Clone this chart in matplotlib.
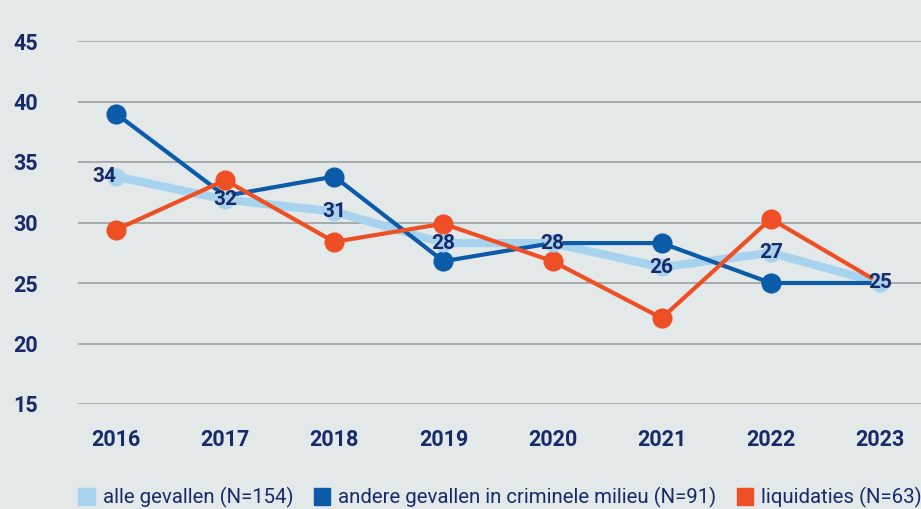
import numpy as np
import matplotlib.pyplot as plt
from matplotlib.patches import Patch

plt.rcParams['font.family'] = ['Roboto', 'DejaVu Sans']

years = [2016, 2017, 2018, 2019, 2020, 2021, 2022, 2023]
alle = [33.8, 31.9, 30.9, 28.3, 28.3, 26.3, 27.5, 25.0]
alle_labels = ['34', '32', '31', '28', '28', '26', '27', '25']
andere = [39.0, 32.2, 33.8, 26.8, 28.3, 28.3, 25.0, 25.0]
liquidaties = [29.4, 33.5, 28.4, 29.9, 26.8, 22.1, 30.3, 25.0]
yticks = [15, 20, 25, 30, 35, 40, 45]

bg = '#e3e9e9'
c_alle = '#a7d3ee'
c_andere = '#0b5ba9'
c_liq = '#ef4f24'
navy = '#172b6b'

fig = plt.figure(figsize=(9.21, 5.09), dpi=100, facecolor=bg)
ax = fig.add_axes([78/921, 105/509, 843/921, 363/509], facecolor=bg)

# lines
ax.plot(years, alle, color=c_alle, lw=6, zorder=2)
ax.plot(years, andere, color=c_andere, lw=3, marker='o', ms=13.5,
        markevery=[0, 2, 3, 5, 6], zorder=3)
ax.plot(years, liquidaties, color=c_liq, lw=3, marker='o', ms=13.5,
        markevery=[0, 1, 2, 3, 4, 5, 6], zorder=4)
# markers of 'alle gevallen' sit on top
ax.plot(years, alle, color=c_alle, ls='none', marker='o', ms=12, zorder=5)

for i, (x, y, s) in enumerate(zip(years, alle, alle_labels)):
    dx = -0.11 if i == 0 else 0
    ax.text(x + dx, y, s, ha='center', va='center', fontsize=15,
            fontweight='bold', color=navy, zorder=6)

ax.set_xlim(2015.652, 2023.376)
ax.set_ylim(15, 45)
ax.set_xticks(years)
ax.set_yticks(yticks)
ax.tick_params(length=0, labelsize=15.5, labelcolor=navy)
ax.tick_params(axis='y', pad=29)
ax.tick_params(axis='x', pad=18)
for lab in ax.get_xticklabels() + ax.get_yticklabels():
    lab.set_fontweight('bold')
for sp in ax.spines.values():
    sp.set_visible(False)
ax.grid(axis='y', color='#a3a6a6', lw=1.3)
ax.set_axisbelow(True)

handles = [Patch(color=c_alle, label='alle gevallen (N=154)'),
           Patch(color=c_andere, label='andere gevallen in criminele milieu (N=91)'),
           Patch(color=c_liq, label='liquidaties (N=63)')]
fig.legend(handles=handles, loc='lower center', bbox_to_anchor=(0.543, -0.035),
           ncol=3, frameon=False, fontsize=14.7, labelcolor=navy,
           handlelength=0.8, handleheight=0.9, handletextpad=0.4,
           columnspacing=1.0)

plt.savefig('out.png', dpi=100, facecolor=bg)
